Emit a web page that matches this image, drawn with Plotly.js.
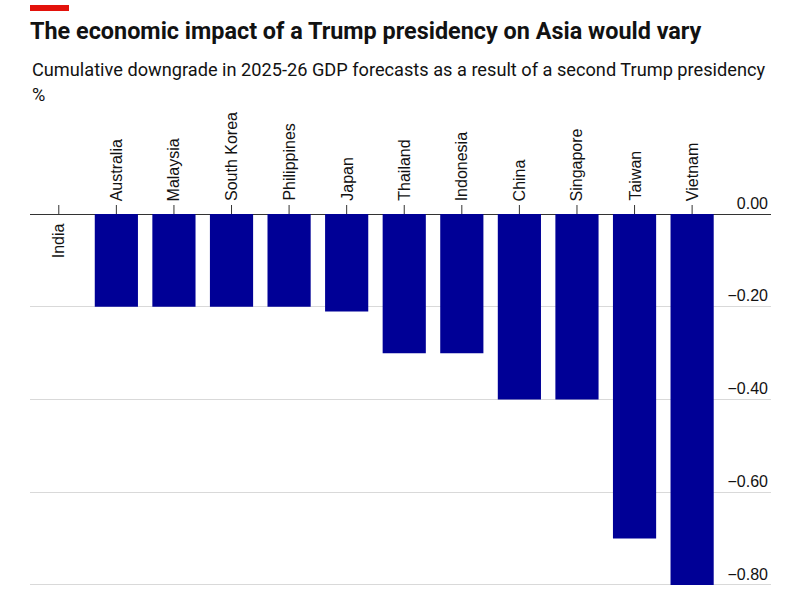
<!DOCTYPE html>
<html>
<head>
<meta charset="utf-8">
<script src="https://cdn.plot.ly/plotly-3.0.1.min.js"></script>
<style>html,body{margin:0;padding:0;background:#fff;}#chart{width:800px;height:600px;}</style>
</head>
<body>
<div id="chart"></div>
<script>
const countries = ["India","Australia","Malaysia","South Korea","Philippines","Japan","Thailand","Indonesia","China","Singapore","Taiwan","Vietnam"];
const downgrade = [0, -0.2, -0.2, -0.2, -0.2, -0.21, -0.3, -0.3, -0.4, -0.4, -0.7, -0.8];
const yTickVals = [0, -0.2, -0.4, -0.6, -0.8];
const yTickText = ["0.00", "\u22120.20", "\u22120.40", "\u22120.60", "\u22120.80"];

const W = 800, H = 600;
const M = {l: 30, r: 29, t: 110, b: 12};
const plotH = H - M.t - M.b;
const py = p => (H - M.b - p) / plotH; // pixel y -> paper y

const annotations = countries.map((c, i) => ({
  x: c, y: 0, xref: 'x', yref: 'y',
  text: c, showarrow: false, textangle: -90,
  xanchor: 'center',
  yanchor: downgrade[i] < 0 ? 'bottom' : 'top',
  yshift: downgrade[i] < 0 ? 11 : -7,
  font: {family: 'Liberation Sans, Arial, sans-serif', size: 16, color: '#121212'}
}));
annotations.push({
  xref: 'paper', yref: 'paper', x: 0, y: py(69), xanchor: 'left', yanchor: 'middle',
  text: 'Cumulative downgrade in 2025-26 GDP forecasts as a result of a second Trump presidency',
  showarrow: false, font: {family: 'Roboto, sans-serif', size: 18.2, color: '#121212'}
});
annotations.push({
  xref: 'paper', yref: 'paper', x: 0, y: py(95), xanchor: 'left', yanchor: 'middle',
  text: '%', showarrow: false, font: {family: 'Roboto, sans-serif', size: 18.2, color: '#121212'}
});

const shapes = countries.map(c => ({
  type: 'line', xref: 'x', yref: 'y', x0: c, x1: c,
  ysizemode: 'pixel', yanchor: 0, y0: 0, y1: 9,
  line: {color: '#333333', width: 1}
}));
shapes.push({
  type: 'rect', xref: 'paper', yref: 'paper', x0: 0, x1: 39 / (W - M.l - M.r),
  y0: py(11), y1: py(5), fillcolor: '#E3120B', line: {width: 0}
});

const data = [{
  type: 'bar', x: countries, y: downgrade,
  marker: {color: '#000096'}, hoverinfo: 'x+y'
}];

const layout = {
  width: W, height: H,
  margin: M,
  paper_bgcolor: '#ffffff', plot_bgcolor: '#ffffff',
  showlegend: false,
  bargap: 0.25,
  title: {
    text: '<b>The economic impact of a Trump presidency on Asia would vary</b>',
    xref: 'paper', x: 0, xanchor: 'left',
    yref: 'container', y: 1 - 31 / H, yanchor: 'middle',
    font: {family: 'Roboto, sans-serif', size: 23.4, color: '#121212'}
  },
  xaxis: {
    type: 'category', range: [-0.5, 12.37],
    showticklabels: false, ticks: '', showgrid: false, zeroline: false, showline: false
  },
  yaxis: {
    side: 'right', range: [-0.8065, 0.2243],
    tickvals: yTickVals, ticktext: yTickText,
    ticklabelposition: 'inside', ticklabelshift: -11, ticklabelstandoff: 0,
    ticks: '', showline: false,
    showgrid: true, gridcolor: '#d9d9d9', gridwidth: 1,
    zeroline: true, zerolinecolor: '#333333', zerolinewidth: 1,
    tickfont: {family: 'Liberation Sans, Arial, sans-serif', size: 16, color: '#121212'}
  },
  annotations: annotations,
  shapes: shapes
};

Plotly.newPlot('chart', data, layout, {displayModeBar: false, staticPlot: true});
</script>
</body>
</html>
